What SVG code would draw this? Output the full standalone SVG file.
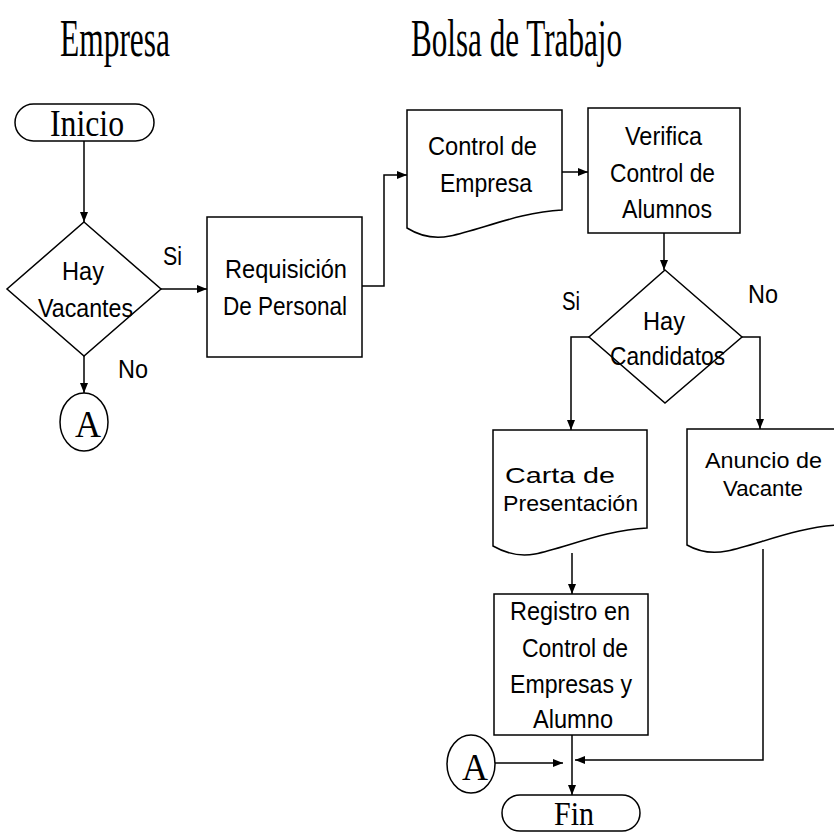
<svg xmlns="http://www.w3.org/2000/svg" width="834" height="834" viewBox="0 0 834 834">
<style>
.s{fill:#fff;stroke:#000;stroke-width:1.5}
.c{fill:none;stroke:#000;stroke-width:1.5}
.t{font-family:"Liberation Sans",Arial,sans-serif;font-size:25px;fill:#000}
.u{font-family:"Liberation Sans",Arial,sans-serif;font-size:22px;fill:#000}
.r{font-family:"Liberation Serif","Times New Roman",serif;font-size:38px;fill:#000}
.h{font-family:"Liberation Serif","Times New Roman",serif;font-size:52px;fill:#000}
</style>
<defs>
<marker id="ar" markerUnits="userSpaceOnUse" markerWidth="10" markerHeight="10" viewBox="0 0 10 10" refX="10" refY="5" orient="auto">
<path d="M0,1 L10,5 L0,9 Z" fill="#000"/>
</marker>
</defs>
<rect width="834" height="834" fill="#fff"/>
<g id="titles">
<text class="h" x="60" y="56" textLength="110" lengthAdjust="spacingAndGlyphs">Empresa</text>
<text class="h" x="411" y="56" textLength="211" lengthAdjust="spacingAndGlyphs">Bolsa de Trabajo</text>
</g>
<g id="connectors">
<path class="c" d="M84,141 V222" marker-end="url(#ar)"/>
<path class="c" d="M161,289 H207" marker-end="url(#ar)"/>
<path class="c" d="M84,356 V393" marker-end="url(#ar)"/>
<path class="c" d="M362,286 H384 V175 H407" marker-end="url(#ar)"/>
<path class="c" d="M562,172 H588" marker-end="url(#ar)"/>
<path class="c" d="M664,233 V270" marker-end="url(#ar)"/>
<path class="c" d="M589,337 H571 V430" marker-end="url(#ar)"/>
<path class="c" d="M742,337 H760 V429" marker-end="url(#ar)"/>
<path class="c" d="M572,553 V594" marker-end="url(#ar)"/>
<path class="c" d="M572,735 V795" marker-end="url(#ar)"/>
<path class="c" d="M495,763 H563" marker-end="url(#ar)"/>
<path class="c" d="M763,549 V760 H575" marker-end="url(#ar)"/>
</g>
<g id="inicio">
<rect class="s" x="15" y="104" width="139" height="37" rx="18.5"/>
<text class="r" x="50" y="136" textLength="74" lengthAdjust="spacingAndGlyphs">Inicio</text>
</g>
<g id="hay-vacantes">
<path class="s" d="M84,222 L161,289 L84,356 L7,289 Z"/>
<text class="t" x="62" y="280" textLength="42" lengthAdjust="spacingAndGlyphs">Hay</text>
<text class="t" x="38" y="317" textLength="95" lengthAdjust="spacingAndGlyphs">Vacantes</text>
<text class="t" x="163" y="265" textLength="19" lengthAdjust="spacingAndGlyphs">Si</text>
<text class="t" x="118" y="378" textLength="30" lengthAdjust="spacingAndGlyphs">No</text>
</g>
<g id="conector-a1">
<ellipse class="s" cx="84" cy="422" rx="24" ry="29"/>
<text class="r" x="75" y="437" textLength="26" lengthAdjust="spacingAndGlyphs">A</text>
</g>
<g id="requisicion">
<rect class="s" x="207" y="217" width="155" height="140"/>
<text class="t" x="225" y="278" textLength="122" lengthAdjust="spacingAndGlyphs">Requisición</text>
<text class="t" x="223" y="315" textLength="124" lengthAdjust="spacingAndGlyphs">De Personal</text>
</g>
<g id="control-empresa">
<path class="s" d="M407,110 H562 V210 C520,212 480,230 450,236 C430,240 415,233 407,228 Z"/>
<text class="t" x="428" y="155" textLength="109" lengthAdjust="spacingAndGlyphs">Control de</text>
<text class="t" x="440" y="192" textLength="92" lengthAdjust="spacingAndGlyphs">Empresa</text>
</g>
<g id="verifica">
<rect class="s" x="588" y="108" width="152" height="125"/>
<text class="t" x="625" y="145" textLength="77" lengthAdjust="spacingAndGlyphs">Verifica</text>
<text class="t" x="610" y="182" textLength="105" lengthAdjust="spacingAndGlyphs">Control de</text>
<text class="t" x="622" y="218" textLength="90" lengthAdjust="spacingAndGlyphs">Alumnos</text>
</g>
<g id="hay-candidatos">
<path class="s" d="M665,270 L742,337 L665,403 L589,337 Z"/>
<text class="t" x="643" y="330" textLength="42" lengthAdjust="spacingAndGlyphs">Hay</text>
<text class="t" x="610" y="365" textLength="115" lengthAdjust="spacingAndGlyphs">Candidatos</text>
<text class="t" x="562" y="310" textLength="18" lengthAdjust="spacingAndGlyphs">Si</text>
<text class="t" x="748" y="303" textLength="30" lengthAdjust="spacingAndGlyphs">No</text>
</g>
<g id="carta">
<path class="s" d="M493,430 H647 V528 C605,530 565,548 535,554 C515,558 500,550 493,546 Z"/>
<text class="u" x="505" y="483" textLength="110" lengthAdjust="spacingAndGlyphs">Carta de</text>
<text class="u" x="503" y="511" textLength="135" lengthAdjust="spacingAndGlyphs">Presentación</text>
</g>
<g id="anuncio">
<path class="s" d="M687,429 H839 V525 C797,527 757,545 727,551 C707,555 694,549 687,545 Z"/>
<text class="u" x="705" y="468" textLength="117" lengthAdjust="spacingAndGlyphs">Anuncio de</text>
<text class="u" x="723" y="496" textLength="80" lengthAdjust="spacingAndGlyphs">Vacante</text>
</g>
<g id="registro">
<rect class="s" x="494" y="594" width="154" height="141"/>
<text class="t" x="510" y="620" textLength="120" lengthAdjust="spacingAndGlyphs">Registro en</text>
<text class="t" x="522" y="657" textLength="106" lengthAdjust="spacingAndGlyphs">Control de</text>
<text class="t" x="510" y="693" textLength="122" lengthAdjust="spacingAndGlyphs">Empresas y</text>
<text class="t" x="533" y="728" textLength="80" lengthAdjust="spacingAndGlyphs">Alumno</text>
</g>
<g id="conector-a2">
<ellipse class="s" cx="471" cy="764" rx="24" ry="29"/>
<text class="r" x="462" y="780" textLength="26" lengthAdjust="spacingAndGlyphs">A</text>
</g>
<g id="fin">
<rect class="s" x="502" y="795" width="138" height="36" rx="18"/>
<text class="r" x="554" y="825" textLength="40" lengthAdjust="spacingAndGlyphs" style="font-size:34px">Fin</text>
</g>
</svg>
